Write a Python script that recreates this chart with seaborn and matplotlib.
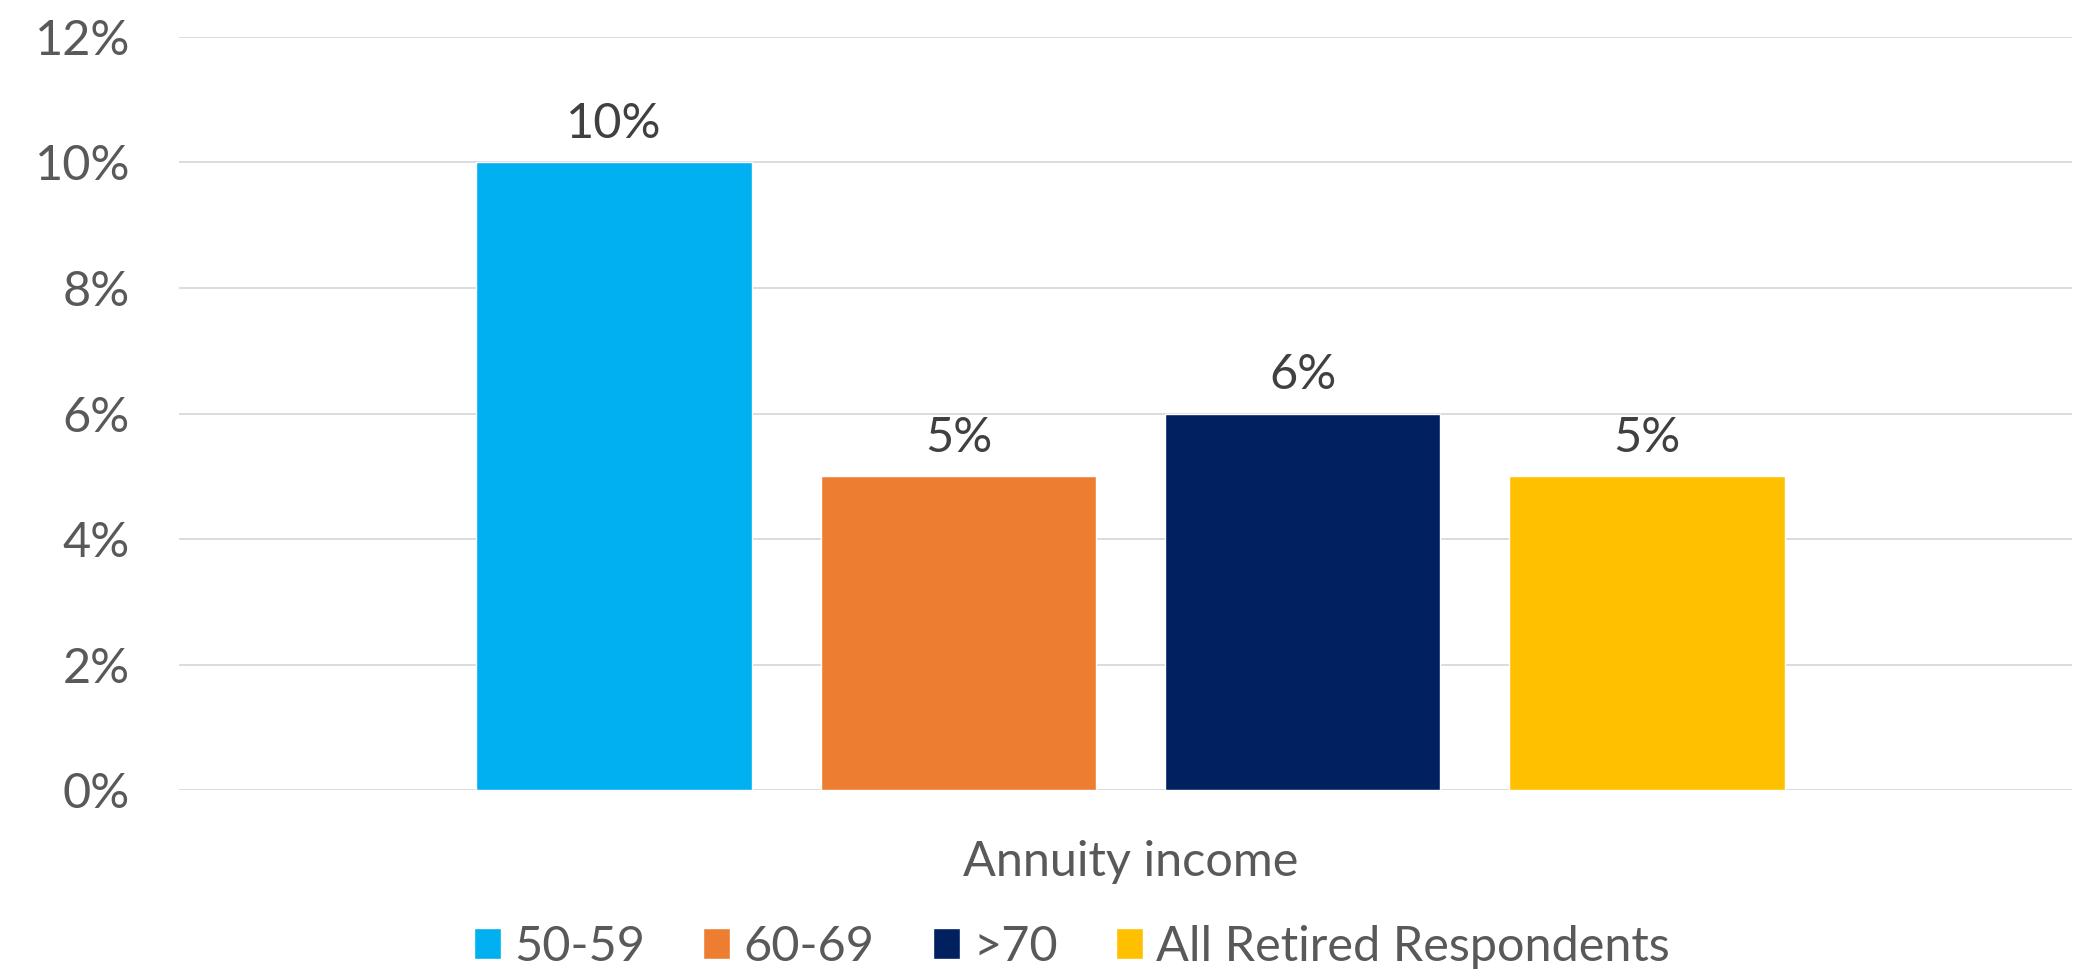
import matplotlib
matplotlib.use("Agg")
import matplotlib.pyplot as plt
import seaborn as sns
import pandas as pd

# Share of respondents receiving annuity income, by age group
category = ["Annuity income"]
groups = ["50-59", "60-69", ">70", "All Retired Respondents"]
values = [0.10, 0.05, 0.06, 0.05]
colors = ["#00B0F0", "#ED7D31", "#002060", "#FFC000"]
y_ticks = [0.0, 0.02, 0.04, 0.06, 0.08, 0.10, 0.12]

df = pd.DataFrame({
    "category": category * len(groups),
    "group": groups,
    "value": values,
})

sns.set_theme(style="white")
plt.rcParams["font.family"] = ["Lato", "DejaVu Sans"]

FS = 35
TICK_COLOR = "#595959"
LABEL_COLOR = "#404040"

fig = plt.figure(figsize=(20.75, 9.71), dpi=100)
ax = fig.add_axes([0.0861, 0.1864, 0.9125, 0.7755])

sns.barplot(
    data=df, x="category", y="value", hue="group",
    hue_order=groups, palette=colors, saturation=1,
    width=0.8, gap=0.2, ax=ax,
)

ax.set_ylim(0, 0.12)
ax.set_xlim(-0.553, 0.547)
ax.set_yticks(y_ticks)
ax.set_yticklabels([f"{t:.0%}" for t in y_ticks])

ax.grid(axis="y", color="#D9D9D9", linewidth=1.3)
ax.grid(axis="x", visible=False)
ax.set_axisbelow(True)
for s in ax.spines.values():
    s.set_visible(False)

ax.tick_params(axis="y", length=0, pad=35, labelsize=FS, labelcolor=TICK_COLOR)
ax.tick_params(axis="x", length=0, pad=36, labelsize=FS, labelcolor=TICK_COLOR)
ax.set_xlabel("")
ax.set_ylabel("")

# Value labels above each bar
for container, v in zip(ax.containers, values):
    ax.bar_label(container, labels=[f"{v:.0%}"], padding=12,
                 fontsize=FS, color=LABEL_COLOR)

handles, labels = ax.get_legend_handles_labels()
ax.get_legend().remove()
fig.legend(
    handles, labels, loc="center", bbox_to_anchor=(0.5166, 0.0247),
    ncol=4, frameon=False, fontsize=FS, labelcolor=TICK_COLOR,
    handlelength=0.56, handleheight=0.6, handletextpad=0.27,
    columnspacing=1.2, borderaxespad=0, borderpad=0,
)

fig.savefig("out.png", dpi=100)
